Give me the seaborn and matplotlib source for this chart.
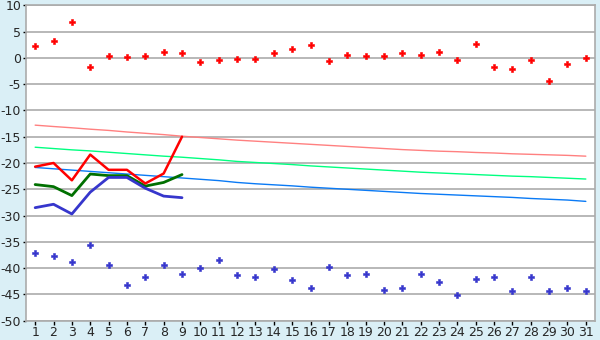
import matplotlib
matplotlib.use("Agg")
import matplotlib.pyplot as plt
import seaborn as sns
import pandas as pd

days = list(range(1, 32))
tick_labels = [str(d) for d in days]

# daily maximum (red points) and minimum (blue points)
max_pts = [2.3, 3.2, 6.9, -1.7, 0.4, 0.1, 0.4, 1.1, 0.95, -0.8,
           -0.4, -0.2, -0.2, 0.95, 1.7, 2.5, -0.6, 0.57, 0.38, 0.38,
           0.95, 0.57, 1.14, -0.4, 2.67, -1.7, -2.1, -0.4, -4.4, -1.15, 0.0]
min_pts = [-37.2, -37.75, -38.9, -35.65, -39.5, -43.3, -41.75, -39.5, -41.2, -40.0,
           -38.5, -41.4, -41.75, -40.2, -42.3, -43.85, -39.7, -41.4, -41.2, -44.2,
           -43.7, -41.2, -42.7, -45.2, -42.1, -41.75, -44.4, -41.75, -44.4, -43.7, -44.4]

# observed lines (days 1-9)
line_days = [1, 2, 3, 4, 5, 6, 7, 8, 9]
obs_max = [-20.7, -20.0, -23.3, -18.4, -21.3, -21.3, -23.9, -22.0, -15.0]
obs_mean = [-24.1, -24.5, -26.2, -22.1, -22.4, -22.4, -24.4, -23.7, -22.2]
obs_min = [-28.5, -27.85, -29.7, -25.55, -22.75, -22.75, -24.8, -26.3, -26.6]

# normals
norm_max = [-12.8, -13.06, -13.3, -13.57, -13.8, -14.1, -14.35, -14.6, -14.9, -15.15,
            -15.4, -15.65, -15.85, -16.05, -16.25, -16.45, -16.65, -16.85, -17.05, -17.25,
            -17.45, -17.6, -17.75, -17.85, -18.0, -18.1, -18.25, -18.35, -18.45, -18.55, -18.7]
norm_mean = [-17.0, -17.25, -17.5, -17.7, -17.95, -18.2, -18.45, -18.7, -18.9, -19.15,
             -19.4, -19.7, -19.9, -20.1, -20.3, -20.55, -20.75, -20.95, -21.15, -21.35,
             -21.55, -21.75, -21.9, -22.05, -22.2, -22.35, -22.5, -22.6, -22.75, -22.9, -23.05]
norm_min = [-20.85, -21.1, -21.35, -21.6, -21.85, -22.1, -22.35, -22.6, -22.85, -23.1,
            -23.35, -23.7, -23.95, -24.15, -24.35, -24.6, -24.8, -25.0, -25.2, -25.4,
            -25.6, -25.8, -25.95, -26.1, -26.25, -26.4, -26.55, -26.75, -26.9, -27.05, -27.3]

y_ticks = list(range(-50, 11, 5))

sns.set_style("white")
plt.rcParams['font.family'] = ['DejaVu Sans']

bg = "#DAEFF6"
fig = plt.figure(figsize=(6, 3.4), dpi=100, facecolor=bg)
ax = fig.add_axes([0.0433, 0.0568, 0.9484, 0.9276])
ax.set_facecolor("white")

norms = pd.DataFrame({"day": days, "nmax": norm_max, "nmean": norm_mean, "nmin": norm_min})
obs = pd.DataFrame({"day": line_days, "omax": obs_max, "omean": obs_mean, "omin": obs_min})
pts = pd.DataFrame({"day": days, "max": max_pts, "min": min_pts})

for ycol, c in [("nmax", "#FF8080"), ("nmean", "#00FF80"), ("nmin", "#0A7AF5")]:
    sns.lineplot(data=norms, x="day", y=ycol, color=c, lw=1.0, ax=ax, zorder=3)

sns.lineplot(data=obs, x="day", y="omax", color="#FF0000", lw=1.8, ax=ax, zorder=5)
sns.lineplot(data=obs, x="day", y="omean", color="#007000", lw=2.0, ax=ax, zorder=4)
sns.lineplot(data=obs, x="day", y="omin", color="#3636CC", lw=2.0, ax=ax, zorder=4)

sns.scatterplot(data=pts, x="day", y="max", color="#FF0000", marker="P", s=24,
                edgecolor="#FF0000", linewidth=0.4, ax=ax, zorder=6)
sns.scatterplot(data=pts, x="day", y="min", color="#3636CC", marker="P", s=24,
                edgecolor="#3636CC", linewidth=0.4, ax=ax, zorder=6)

ax.set_xlim(0.5, 31.5)
ax.set_ylim(-50, 10)
ax.set_xticks(days)
ax.set_xticklabels(tick_labels)
ax.set_yticks(y_ticks)
ax.set_yticklabels([str(v) for v in y_ticks])
ax.set_xlabel("")
ax.set_ylabel("")
ax.yaxis.grid(True, color="#ABABAB", lw=1.2, zorder=0)
ax.xaxis.grid(False)
ax.set_axisbelow(True)
for s in ax.spines.values():
    s.set_visible(True)
    s.set_color("#ABABAB")
    s.set_linewidth(1.2)
ax.tick_params(axis="x", bottom=True, length=2.8, width=1, color="black",
               labelsize=9, pad=1.2)
ax.tick_params(axis="y", left=True, length=2.5, width=1, color="black",
               labelsize=9, pad=1)

fig.savefig("out.png", dpi=100, facecolor=bg)
